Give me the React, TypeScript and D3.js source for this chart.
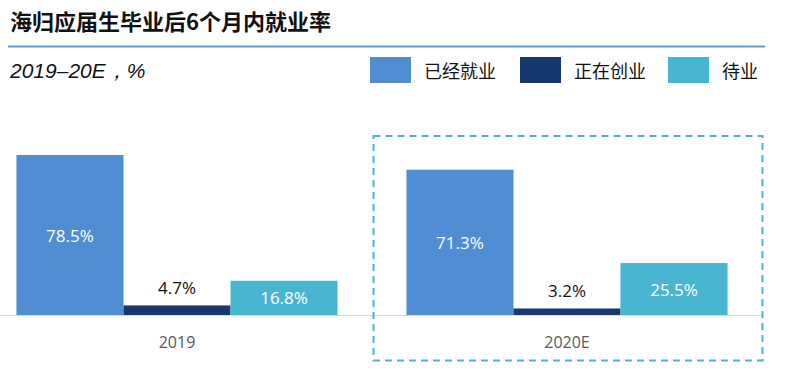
import React from "react";
import * as d3 from "d3";

const categories = ["2019", "2020E"];
const seriesNames = ["已经就业", "正在创业", "待业"];
const employed = [78.5, 71.3];
const startup = [4.7, 3.2];
const unemployed = [16.8, 25.5];
const seriesValues = [employed, startup, unemployed];
const colors = ["#508DD3", "#17386F", "#49B6D1"];
const labelColors = ["#ffffff", "#111111", "#ffffff"];
const insideLabel = [true, false, true];

const W = 788;
const H = 378;
const baseY = 315;

export default function App() {
  const x0 = d3.scaleBand<string>().domain(categories).range([-18, 762]).paddingInner(0).paddingOuter(0);
  const x1 = d3
    .scaleBand<string>()
    .domain(seriesNames)
    .range([0, x0.bandwidth()])
    .paddingInner(0)
    .paddingOuter(0.322);
  const y = d3.scaleLinear().domain([0, 78.5]).range([baseY, 155]);

  const legendX = [370, 520, 668];

  return (
    <svg width={W} height={H} style={{ position: "absolute", left: 0, top: 0, background: "#fff" }}>
      <text x={10} y={30} fontSize={22} fontWeight="bold" fill="#111" fontFamily="'Noto Sans CJK SC', sans-serif">
        海归应届生毕业后6个月内就业率
      </text>
      <line x1={8} x2={765} y1={46.5} y2={46.5} stroke="#5B9BD5" strokeWidth={2} />
      <text x={10} y={78} fontSize={21} fontStyle="italic" fill="#111" fontFamily="'Liberation Sans', Arial, sans-serif">
        2019–20E，%
      </text>
      {seriesNames.map((s, i) => (
        <g key={s}>
          <rect x={legendX[i]} y={57} width={41} height={26} fill={colors[i]} />
          <text x={legendX[i] + 54} y={70} dominantBaseline="central" fontSize={18} fill="#111" fontFamily="'Noto Sans CJK SC', sans-serif">
            {s}
          </text>
        </g>
      ))}
      <line x1={0} x2={762} y1={baseY + 0.5} y2={baseY + 0.5} stroke="#D9D9D9" strokeWidth={1} />
      {categories.map((c, ci) => (
        <g key={c} transform={`translate(${x0(c)},0)`}>
          {seriesNames.map((s, si) => {
            const v = seriesValues[si][ci];
            const bx = x1(s)!;
            const bw = x1.bandwidth();
            const top = y(v);
            const ly = insideLabel[si] ? (top + baseY) / 2 : top - 17.5;
            return (
              <g key={s}>
                <rect x={bx} y={top} width={bw} height={baseY - top} fill={colors[si]} />
                <text
                  x={bx + bw / 2}
                  y={ly}
                  textAnchor="middle"
                  dominantBaseline="central"
                  fontSize={17}
                  fill={labelColors[si]}
                  fontFamily="'Open Sans', 'Noto Sans', sans-serif"
                >
                  {v.toFixed(1)}%
                </text>
              </g>
            );
          })}
          <text
            x={x0.bandwidth() / 2}
            y={342}
            textAnchor="middle"
            dominantBaseline="central"
            fontSize={16}
            fill="#595959"
            fontFamily="'Open Sans', 'Noto Sans', sans-serif"
          >
            {c}
          </text>
        </g>
      ))}
      <rect
        x={373.5}
        y={136}
        width={389}
        height={224.5}
        fill="none"
        stroke="#49B6D1"
        strokeWidth={2}
        strokeDasharray="7 5"
      />
    </svg>
  );
}
